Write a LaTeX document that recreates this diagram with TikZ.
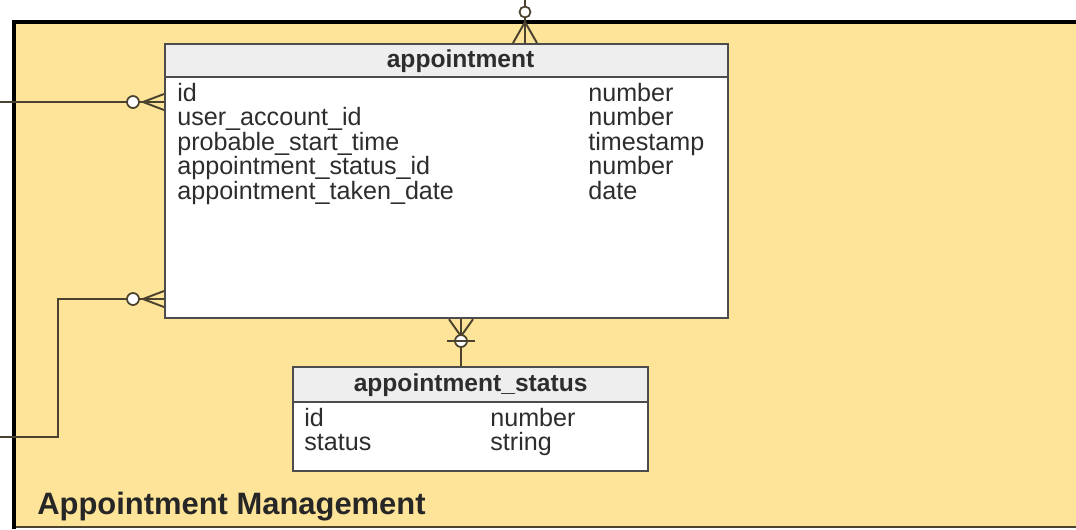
\documentclass[tikz,border=0pt]{standalone}
\usepackage{fontspec}
\setmainfont{Liberation Sans}
\usetikzlibrary{positioning}
\definecolor{pkgyellow}{RGB}{253,228,153}
\definecolor{hdrgray}{RGB}{238,238,238}
\definecolor{relline}{RGB}{74,66,46}
\definecolor{txtgray}{RGB}{45,45,45}
\tikzset{
	entity/.style={draw=black!70, line width=1.3pt, fill=white, anchor=north west, inner sep=0pt},
	entityhead/.style={draw=black!70, line width=1.3pt, fill=hdrgray, anchor=north west, inner sep=0pt,
		font=\bfseries\fontsize{14}{16}\selectfont, text=txtgray},
	field/.style={anchor=base west, inner sep=0pt, font=\fontsize{14.3}{16}\selectfont, text=txtgray},
	rel/.style={draw=relline, line width=1.1pt},
	optend/.style={draw=relline, line width=1pt, fill=white},
}

\begin{document}
\begin{tikzpicture}[x=0.02cm, y=-0.02cm]
	\useasboundingbox (0,0) rectangle (1076,529);
	% package area
	\fill[pkgyellow] (14,22) rectangle (1076,527);
	\draw[relline, line width=1pt] (14,527) -- (1076,527);
	\draw[black, line width=2.4pt] (14,529) -- (14,22) -- (1076,22);
	\node[anchor=base west, inner sep=0pt, font=\bfseries\fontsize{17.6}{20}\selectfont, text=black!85] (pkgname) at (37,514) {Appointment Management};
	% tables
	\node[entity, minimum width=11.26cm, minimum height=5.48cm] (appt) at (164,43) {};
	\node[entityhead, minimum width=11.26cm, minimum height=0.66cm] (appthead) at (appt.north west) {\hspace*{0.56cm}appointment};
	\foreach \name/\type [count=\i] in {id/number, user\_account\_id/number, probable\_start\_time/timestamp,
		appointment\_status\_id/number, appointment\_taken\_date/date}{
		\node[field] (af\i) at (177,{76.5+24.5*\i}) {\name};
		\node[field] (at\i) at (588,{76.5+24.5*\i}) {\type};
	}
	\node[entity, minimum width=7.1cm, minimum height=2.08cm] (stat) at (292,366) {};
	\node[entityhead, minimum width=7.1cm, minimum height=0.7cm] (stathead) at (stat.north west) {appointment\_status};
	\foreach \name/\type [count=\i] in {id/number, status/string}{
		\node[field] (sf\i) at (304,{402+24*\i}) {\name};
		\node[field] (st\i) at (490,{402+24*\i}) {\type};
	}
	% relationships
	\coordinate (src1) at (0,102);
	\draw[rel] (src1) -- (appt.west |- src1);
	\draw[rel] (appt.west |- src1) ++(0,-8) -- ++(-21,8) -- ++(21,8);
	\draw[optend] (appt.west |- src1) ++(-31,0) circle (6);
	\coordinate (src2) at (0,437);
	\coordinate (bend2) at (58,299);
	\draw[rel] (src2) -| (bend2) -- (appt.west |- bend2);
	\draw[rel] (appt.west |- bend2) ++(0,-8) -- ++(-21,8) -- ++(21,8);
	\draw[optend] (appt.west |- bend2) ++(-31,0) circle (6);
	\coordinate (src3) at (525,0);
	\draw[rel] (src3) -- (src3 |- appt.north);
	\draw[rel] (src3 |- appt.north) ++(-12,0) -- ++(12,-21) -- ++(12,21);
	\draw[optend] (525,12) circle (5.5);
	\coordinate (link4) at (461,341);
	\draw[rel] (link4 |- appt.south) -- (link4 |- stat.north);
	\draw[rel] (link4 |- appt.south) ++(-12,0) -- ++(12,17) -- ++(12,-17);
	\draw[optend] (link4) circle (6);
	\draw[rel] (link4) ++(-14,0) -- ++(28,0);
\end{tikzpicture}
\end{document}
